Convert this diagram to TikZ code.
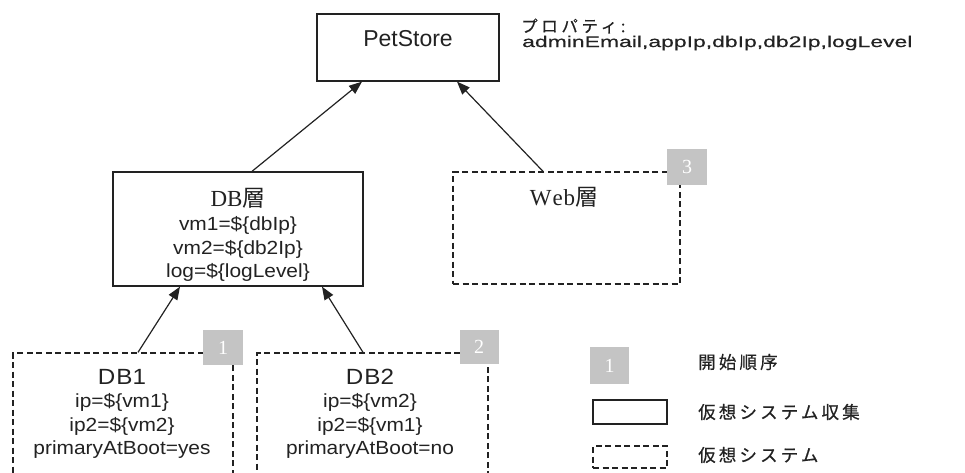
\documentclass[tikz,border=0pt]{standalone}
\usepackage{fontspec}
\setmainfont{Liberation Sans}
\newfontfamily\jp{Noto Sans CJK JP}
\newfontfamily\jpsp[LetterSpace=18,FakeBold=0.6]{Noto Sans CJK JP}
\newfontfamily\jpwide[LetterSpace=22,FakeBold=0.6]{Noto Sans CJK JP}
\newfontfamily\widef[FakeStretch=1.48,FakeBold=0.5]{Liberation Sans}
\newfontfamily\boxf[FakeStretch=1.1]{Liberation Sans}
\newfontfamily\serf{Liberation Serif}
\usetikzlibrary{arrows.meta}
\definecolor{ink}{HTML}{222222}
\definecolor{badgegray}{HTML}{C4C4C4}
\tikzset{
  solidbox/.style={draw=ink, line width=1.3pt, fill=white, inner sep=0pt},
  dashbox/.style={draw=ink, line width=1.3pt, dash pattern=on 6pt off 3.5pt, fill=white, inner sep=0pt},
  badge/.style={fill=badgegray, inner sep=0pt, text=white, font=\serf\fontsize{20}{20}\selectfont},
  titletext/.style={text=ink, font=\boxf\fontsize{22}{26}\selectfont, inner sep=0pt},
  bodytext/.style={text=ink, align=center, font=\boxf\fontsize{19}{23.5}\selectfont, inner sep=0pt},
  layertext/.style={text=ink, font=\serf\fontsize{23}{26}\selectfont, inner sep=0pt},
  legendtext/.style={text=ink, anchor=west, font=\jpsp\fontsize{17.5}{20}\selectfont, inner sep=0pt},
  conn/.style={draw=ink, line width=1.2pt, -{Triangle[length=13pt,width=10pt]}}
}
\begin{document}
\begin{tikzpicture}[x=1pt,y=-1pt]
\useasboundingbox (0,0) rectangle (965,473);
\clip (0,0) rectangle (965,473);
% PetStore
\node[solidbox, minimum width=182pt, minimum height=67pt] (pet) at (408,47.5) {};
\node[titletext, font=\fontsize{23}{26}\selectfont] (pett) at (408,39) {PetStore};
% properties
\node[text=ink, anchor=west, inner sep=0pt, font=\jpwide\fontsize{16.5}{18}\selectfont] (propt) at (521,26) {プロパティ:};
\node[text=ink, anchor=west, inner sep=0pt, font=\widef\fontsize{15.5}{18}\selectfont] (propl) at (522,43) {adminEmail,appIp,dbIp,db2Ip,logLevel};
% DB layer
\node[solidbox, minimum width=250pt, minimum height=114pt] (dbl) at (238,229) {};
\node[layertext] (dblt) at (238,198) {DB{\jp 層}};
\node[bodytext] (dblb) at (238,249) {vm1=\$\{dbIp\}\\vm2=\$\{db2Ip\}\\log=\$\{logLevel\}};
% Web layer
\node[dashbox, minimum width=227pt, minimum height=112pt] (web) at (566.5,228) {};
\node[layertext] (webt) at (564,197) {W\kern1pt e\kern1pt b{\jp 層}};
\node[badge, minimum width=40pt, minimum height=36pt] (b3) at (687,167) {3};
% DB1
\node[dashbox, minimum width=220pt, minimum height=140pt] (db1) at (123,423) {};
\node[titletext] (db1t) at (122,377) {D\kern1pt B1};
\node[bodytext] (db1b) at (122,426) {ip=\$\{vm1\}\\ip2=\$\{vm2\}\\primaryAtBoot=yes};
\node[badge, minimum width=40pt, minimum height=35pt] (b1) at (223,347.5) {1};
% DB2
\node[dashbox, minimum width=231pt, minimum height=140pt] (db2) at (372.5,423) {};
\node[titletext] (db2t) at (370,377) {D\kern1pt B2};
\node[bodytext] (db2b) at (370,426) {ip=\$\{vm2\}\\ip2=\$\{vm1\}\\primaryAtBoot=no};
\node[badge, minimum width=39pt, minimum height=34pt] (b2) at (479,346.5) {2};
% connectors
\draw[conn] ([xshift=15pt]db1.north) -- ([xshift=-58pt]dbl.south);
\draw[conn] ([xshift=-9.5pt]db2.north) -- ([xshift=84pt]dbl.south);
\draw[conn] ([xshift=14pt]dbl.north) -- ([xshift=-46pt]pet.south);
\draw[conn] ([xshift=-23.5pt]web.north) -- ([xshift=49pt]pet.south);
% legend
\node[badge, minimum width=39pt, minimum height=37pt] (lb) at (609.5,365.5) {1};
\node[solidbox, minimum width=74pt, minimum height=24pt] (ls) at (630,412) {};
\node[dashbox, minimum width=74pt, minimum height=22pt] (ld) at (630,457) {};
\node[legendtext] (lt1) at (698,362) {開始順序};
\node[legendtext] (lt2) at (698,412) {仮想システム収集};
\node[legendtext] (lt3) at (698,455) {仮想システム};
\end{tikzpicture}
\end{document}
